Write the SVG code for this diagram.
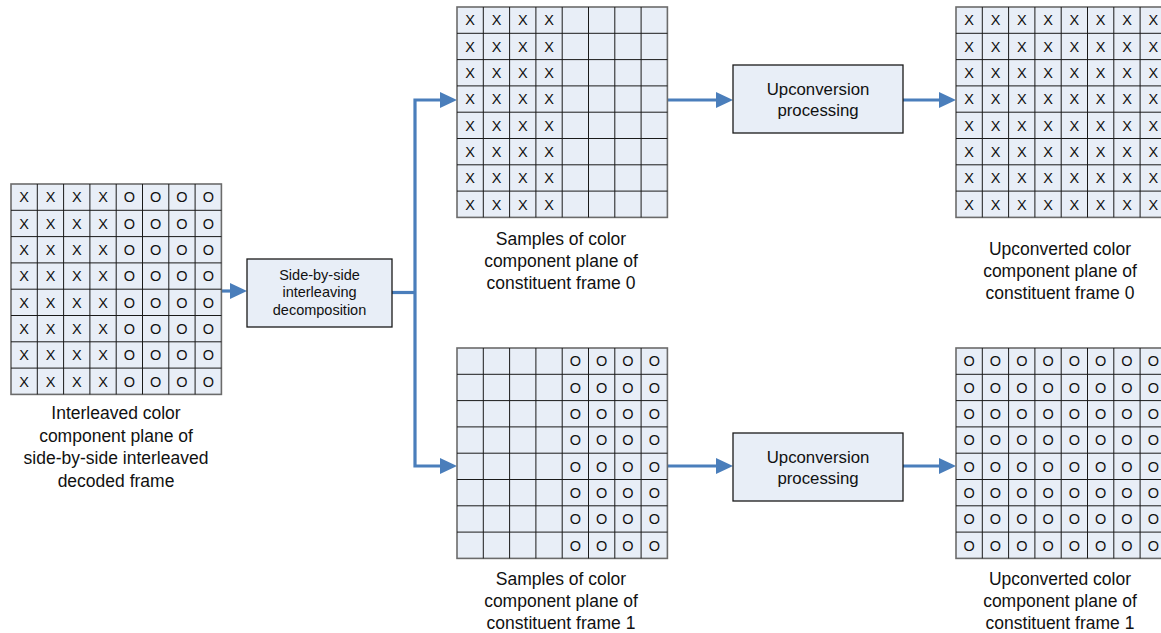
<svg xmlns="http://www.w3.org/2000/svg" width="1161" height="633" viewBox="0 0 1161 633">
<style>
.bg{fill:#E8EEF7;stroke:#6b6b6b;stroke-width:1.6}
.gl{fill:none;stroke:#1a1a1a;stroke-width:1}
.c{font-family:"Liberation Sans",Arial,sans-serif;font-size:14.5px;fill:#111;text-anchor:middle}
.lb{font-family:"Liberation Sans",Arial,sans-serif;font-size:17.5px;fill:#111;text-anchor:middle}
.bx{fill:#E8EEF7;stroke:#1a1a1a;stroke-width:1.3}
.bt{font-family:"Liberation Sans",Arial,sans-serif;font-size:16.8px;fill:#111;text-anchor:middle}
.st{font-family:"Liberation Sans",Arial,sans-serif;font-size:14.5px;fill:#111;text-anchor:middle}
.ar{fill:none;stroke:#4A7EBB;stroke-width:3.2}
</style>
<defs>
<marker id="ah" markerUnits="userSpaceOnUse" markerWidth="17" markerHeight="16" refX="0" refY="8" orient="auto-start-reverse">
<path d="M0,0 L17,8 L0,16 Z" fill="#4A7EBB"/>
</marker>
</defs>

<g id="connectors">
<path class="ar" d="M221,291 H230" marker-end="url(#ah)"/>
<path class="ar" d="M392,292.5 H415"/>
<path class="ar" d="M440,100 H415 V466 H440" marker-start="url(#ah)" marker-end="url(#ah)"/>
<path class="ar" d="M667.4,100 H716" marker-end="url(#ah)"/>
<path class="ar" d="M903,100 H939" marker-end="url(#ah)"/>
<path class="ar" d="M667.4,466 H716" marker-end="url(#ah)"/>
<path class="ar" d="M903,466 H939" marker-end="url(#ah)"/>
</g>

<g id="interleaved-plane">
<rect class="bg" x="11" y="184" width="210.4" height="210.4"/>
<path class="gl" d="M37.3,184V394.4M63.6,184V394.4M89.9,184V394.4M116.2,184V394.4M142.5,184V394.4M168.8,184V394.4M195.1,184V394.4M11,210.3H221.4M11,236.6H221.4M11,262.9H221.4M11,289.2H221.4M11,315.5H221.4M11,341.8H221.4M11,368.1H221.4"/>
<text class="c" x="24.2" y="202.4">X</text><text class="c" x="50.5" y="202.4">X</text><text class="c" x="76.8" y="202.4">X</text><text class="c" x="103.1" y="202.4">X</text><text class="c" x="129.4" y="202.4">O</text><text class="c" x="155.7" y="202.4">O</text><text class="c" x="182" y="202.4">O</text><text class="c" x="208.3" y="202.4">O</text>
<text class="c" x="24.2" y="228.7">X</text><text class="c" x="50.5" y="228.7">X</text><text class="c" x="76.8" y="228.7">X</text><text class="c" x="103.1" y="228.7">X</text><text class="c" x="129.4" y="228.7">O</text><text class="c" x="155.7" y="228.7">O</text><text class="c" x="182" y="228.7">O</text><text class="c" x="208.3" y="228.7">O</text>
<text class="c" x="24.2" y="255">X</text><text class="c" x="50.5" y="255">X</text><text class="c" x="76.8" y="255">X</text><text class="c" x="103.1" y="255">X</text><text class="c" x="129.4" y="255">O</text><text class="c" x="155.7" y="255">O</text><text class="c" x="182" y="255">O</text><text class="c" x="208.3" y="255">O</text>
<text class="c" x="24.2" y="281.3">X</text><text class="c" x="50.5" y="281.3">X</text><text class="c" x="76.8" y="281.3">X</text><text class="c" x="103.1" y="281.3">X</text><text class="c" x="129.4" y="281.3">O</text><text class="c" x="155.7" y="281.3">O</text><text class="c" x="182" y="281.3">O</text><text class="c" x="208.3" y="281.3">O</text>
<text class="c" x="24.2" y="307.6">X</text><text class="c" x="50.5" y="307.6">X</text><text class="c" x="76.8" y="307.6">X</text><text class="c" x="103.1" y="307.6">X</text><text class="c" x="129.4" y="307.6">O</text><text class="c" x="155.7" y="307.6">O</text><text class="c" x="182" y="307.6">O</text><text class="c" x="208.3" y="307.6">O</text>
<text class="c" x="24.2" y="333.9">X</text><text class="c" x="50.5" y="333.9">X</text><text class="c" x="76.8" y="333.9">X</text><text class="c" x="103.1" y="333.9">X</text><text class="c" x="129.4" y="333.9">O</text><text class="c" x="155.7" y="333.9">O</text><text class="c" x="182" y="333.9">O</text><text class="c" x="208.3" y="333.9">O</text>
<text class="c" x="24.2" y="360.2">X</text><text class="c" x="50.5" y="360.2">X</text><text class="c" x="76.8" y="360.2">X</text><text class="c" x="103.1" y="360.2">X</text><text class="c" x="129.4" y="360.2">O</text><text class="c" x="155.7" y="360.2">O</text><text class="c" x="182" y="360.2">O</text><text class="c" x="208.3" y="360.2">O</text>
<text class="c" x="24.2" y="386.5">X</text><text class="c" x="50.5" y="386.5">X</text><text class="c" x="76.8" y="386.5">X</text><text class="c" x="103.1" y="386.5">X</text><text class="c" x="129.4" y="386.5">O</text><text class="c" x="155.7" y="386.5">O</text><text class="c" x="182" y="386.5">O</text><text class="c" x="208.3" y="386.5">O</text>
<text class="lb" x="116" y="419">Interleaved color</text>
<text class="lb" x="116" y="441.5">component plane of</text>
<text class="lb" x="116" y="464">side-by-side interleaved</text>
<text class="lb" x="116" y="486.5">decoded frame</text>
</g>

<g id="decomposition">
<rect class="bx" x="247" y="259" width="145" height="68"/>
<text class="st" x="319.5" y="279.5">Side-by-side</text>
<text class="st" x="319.5" y="297">interleaving</text>
<text class="st" x="319.5" y="314.5">decomposition</text>
</g>

<g id="samples-frame0">
<rect class="bg" x="457" y="7" width="210.4" height="210.4"/>
<path class="gl" d="M483.3,7V217.4M509.6,7V217.4M535.9,7V217.4M562.2,7V217.4M588.5,7V217.4M614.8,7V217.4M641.1,7V217.4M457,33.3H667.4M457,59.6H667.4M457,85.9H667.4M457,112.2H667.4M457,138.5H667.4M457,164.8H667.4M457,191.1H667.4"/>
<text class="c" x="470.2" y="25.4">X</text><text class="c" x="496.5" y="25.4">X</text><text class="c" x="522.8" y="25.4">X</text><text class="c" x="549.1" y="25.4">X</text>
<text class="c" x="470.2" y="51.7">X</text><text class="c" x="496.5" y="51.7">X</text><text class="c" x="522.8" y="51.7">X</text><text class="c" x="549.1" y="51.7">X</text>
<text class="c" x="470.2" y="78">X</text><text class="c" x="496.5" y="78">X</text><text class="c" x="522.8" y="78">X</text><text class="c" x="549.1" y="78">X</text>
<text class="c" x="470.2" y="104.3">X</text><text class="c" x="496.5" y="104.3">X</text><text class="c" x="522.8" y="104.3">X</text><text class="c" x="549.1" y="104.3">X</text>
<text class="c" x="470.2" y="130.6">X</text><text class="c" x="496.5" y="130.6">X</text><text class="c" x="522.8" y="130.6">X</text><text class="c" x="549.1" y="130.6">X</text>
<text class="c" x="470.2" y="156.9">X</text><text class="c" x="496.5" y="156.9">X</text><text class="c" x="522.8" y="156.9">X</text><text class="c" x="549.1" y="156.9">X</text>
<text class="c" x="470.2" y="183.2">X</text><text class="c" x="496.5" y="183.2">X</text><text class="c" x="522.8" y="183.2">X</text><text class="c" x="549.1" y="183.2">X</text>
<text class="c" x="470.2" y="209.5">X</text><text class="c" x="496.5" y="209.5">X</text><text class="c" x="522.8" y="209.5">X</text><text class="c" x="549.1" y="209.5">X</text>
<text class="lb" x="561" y="244.5">Samples of color</text>
<text class="lb" x="561" y="266.5">component plane of</text>
<text class="lb" x="561" y="289">constituent frame 0</text>
</g>

<g id="upconversion-0">
<rect class="bx" x="733" y="65" width="170" height="68"/>
<text class="bt" x="818" y="95">Upconversion</text>
<text class="bt" x="818" y="116">processing</text>
</g>

<g id="upconverted-frame0">
<rect class="bg" x="956" y="7" width="210.4" height="210.4"/>
<path class="gl" d="M982.3,7V217.4M1008.6,7V217.4M1034.9,7V217.4M1061.2,7V217.4M1087.5,7V217.4M1113.8,7V217.4M1140.1,7V217.4M956,33.3H1166.4M956,59.6H1166.4M956,85.9H1166.4M956,112.2H1166.4M956,138.5H1166.4M956,164.8H1166.4M956,191.1H1166.4"/>
<text class="c" x="969.2" y="25.4">X</text><text class="c" x="995.5" y="25.4">X</text><text class="c" x="1021.8" y="25.4">X</text><text class="c" x="1048.1" y="25.4">X</text><text class="c" x="1074.4" y="25.4">X</text><text class="c" x="1100.7" y="25.4">X</text><text class="c" x="1127" y="25.4">X</text><text class="c" x="1153.3" y="25.4">X</text>
<text class="c" x="969.2" y="51.7">X</text><text class="c" x="995.5" y="51.7">X</text><text class="c" x="1021.8" y="51.7">X</text><text class="c" x="1048.1" y="51.7">X</text><text class="c" x="1074.4" y="51.7">X</text><text class="c" x="1100.7" y="51.7">X</text><text class="c" x="1127" y="51.7">X</text><text class="c" x="1153.3" y="51.7">X</text>
<text class="c" x="969.2" y="78">X</text><text class="c" x="995.5" y="78">X</text><text class="c" x="1021.8" y="78">X</text><text class="c" x="1048.1" y="78">X</text><text class="c" x="1074.4" y="78">X</text><text class="c" x="1100.7" y="78">X</text><text class="c" x="1127" y="78">X</text><text class="c" x="1153.3" y="78">X</text>
<text class="c" x="969.2" y="104.3">X</text><text class="c" x="995.5" y="104.3">X</text><text class="c" x="1021.8" y="104.3">X</text><text class="c" x="1048.1" y="104.3">X</text><text class="c" x="1074.4" y="104.3">X</text><text class="c" x="1100.7" y="104.3">X</text><text class="c" x="1127" y="104.3">X</text><text class="c" x="1153.3" y="104.3">X</text>
<text class="c" x="969.2" y="130.6">X</text><text class="c" x="995.5" y="130.6">X</text><text class="c" x="1021.8" y="130.6">X</text><text class="c" x="1048.1" y="130.6">X</text><text class="c" x="1074.4" y="130.6">X</text><text class="c" x="1100.7" y="130.6">X</text><text class="c" x="1127" y="130.6">X</text><text class="c" x="1153.3" y="130.6">X</text>
<text class="c" x="969.2" y="156.9">X</text><text class="c" x="995.5" y="156.9">X</text><text class="c" x="1021.8" y="156.9">X</text><text class="c" x="1048.1" y="156.9">X</text><text class="c" x="1074.4" y="156.9">X</text><text class="c" x="1100.7" y="156.9">X</text><text class="c" x="1127" y="156.9">X</text><text class="c" x="1153.3" y="156.9">X</text>
<text class="c" x="969.2" y="183.2">X</text><text class="c" x="995.5" y="183.2">X</text><text class="c" x="1021.8" y="183.2">X</text><text class="c" x="1048.1" y="183.2">X</text><text class="c" x="1074.4" y="183.2">X</text><text class="c" x="1100.7" y="183.2">X</text><text class="c" x="1127" y="183.2">X</text><text class="c" x="1153.3" y="183.2">X</text>
<text class="c" x="969.2" y="209.5">X</text><text class="c" x="995.5" y="209.5">X</text><text class="c" x="1021.8" y="209.5">X</text><text class="c" x="1048.1" y="209.5">X</text><text class="c" x="1074.4" y="209.5">X</text><text class="c" x="1100.7" y="209.5">X</text><text class="c" x="1127" y="209.5">X</text><text class="c" x="1153.3" y="209.5">X</text>
<text class="lb" x="1060" y="254.5">Upconverted color</text>
<text class="lb" x="1060" y="276.5">component plane of</text>
<text class="lb" x="1060" y="298.5">constituent frame 0</text>
</g>

<g id="samples-frame1">
<rect class="bg" x="457" y="348" width="210.4" height="210.4"/>
<path class="gl" d="M483.3,348V558.4M509.6,348V558.4M535.9,348V558.4M562.2,348V558.4M588.5,348V558.4M614.8,348V558.4M641.1,348V558.4M457,374.3H667.4M457,400.6H667.4M457,426.9H667.4M457,453.2H667.4M457,479.5H667.4M457,505.8H667.4M457,532.1H667.4"/>
<text class="c" x="575.4" y="366.4">O</text><text class="c" x="601.7" y="366.4">O</text><text class="c" x="628" y="366.4">O</text><text class="c" x="654.3" y="366.4">O</text>
<text class="c" x="575.4" y="392.7">O</text><text class="c" x="601.7" y="392.7">O</text><text class="c" x="628" y="392.7">O</text><text class="c" x="654.3" y="392.7">O</text>
<text class="c" x="575.4" y="419">O</text><text class="c" x="601.7" y="419">O</text><text class="c" x="628" y="419">O</text><text class="c" x="654.3" y="419">O</text>
<text class="c" x="575.4" y="445.3">O</text><text class="c" x="601.7" y="445.3">O</text><text class="c" x="628" y="445.3">O</text><text class="c" x="654.3" y="445.3">O</text>
<text class="c" x="575.4" y="471.6">O</text><text class="c" x="601.7" y="471.6">O</text><text class="c" x="628" y="471.6">O</text><text class="c" x="654.3" y="471.6">O</text>
<text class="c" x="575.4" y="497.9">O</text><text class="c" x="601.7" y="497.9">O</text><text class="c" x="628" y="497.9">O</text><text class="c" x="654.3" y="497.9">O</text>
<text class="c" x="575.4" y="524.2">O</text><text class="c" x="601.7" y="524.2">O</text><text class="c" x="628" y="524.2">O</text><text class="c" x="654.3" y="524.2">O</text>
<text class="c" x="575.4" y="550.5">O</text><text class="c" x="601.7" y="550.5">O</text><text class="c" x="628" y="550.5">O</text><text class="c" x="654.3" y="550.5">O</text>
<text class="lb" x="561" y="584.5">Samples of color</text>
<text class="lb" x="561" y="606.5">component plane of</text>
<text class="lb" x="561" y="628.5">constituent frame 1</text>
</g>

<g id="upconversion-1">
<rect class="bx" x="733" y="433" width="170" height="68"/>
<text class="bt" x="818" y="463">Upconversion</text>
<text class="bt" x="818" y="484">processing</text>
</g>

<g id="upconverted-frame1">
<rect class="bg" x="956" y="348" width="210.4" height="210.4"/>
<path class="gl" d="M982.3,348V558.4M1008.6,348V558.4M1034.9,348V558.4M1061.2,348V558.4M1087.5,348V558.4M1113.8,348V558.4M1140.1,348V558.4M956,374.3H1166.4M956,400.6H1166.4M956,426.9H1166.4M956,453.2H1166.4M956,479.5H1166.4M956,505.8H1166.4M956,532.1H1166.4"/>
<text class="c" x="969.2" y="366.4">O</text><text class="c" x="995.5" y="366.4">O</text><text class="c" x="1021.8" y="366.4">O</text><text class="c" x="1048.1" y="366.4">O</text><text class="c" x="1074.4" y="366.4">O</text><text class="c" x="1100.7" y="366.4">O</text><text class="c" x="1127" y="366.4">O</text><text class="c" x="1153.3" y="366.4">O</text>
<text class="c" x="969.2" y="392.7">O</text><text class="c" x="995.5" y="392.7">O</text><text class="c" x="1021.8" y="392.7">O</text><text class="c" x="1048.1" y="392.7">O</text><text class="c" x="1074.4" y="392.7">O</text><text class="c" x="1100.7" y="392.7">O</text><text class="c" x="1127" y="392.7">O</text><text class="c" x="1153.3" y="392.7">O</text>
<text class="c" x="969.2" y="419">O</text><text class="c" x="995.5" y="419">O</text><text class="c" x="1021.8" y="419">O</text><text class="c" x="1048.1" y="419">O</text><text class="c" x="1074.4" y="419">O</text><text class="c" x="1100.7" y="419">O</text><text class="c" x="1127" y="419">O</text><text class="c" x="1153.3" y="419">O</text>
<text class="c" x="969.2" y="445.3">O</text><text class="c" x="995.5" y="445.3">O</text><text class="c" x="1021.8" y="445.3">O</text><text class="c" x="1048.1" y="445.3">O</text><text class="c" x="1074.4" y="445.3">O</text><text class="c" x="1100.7" y="445.3">O</text><text class="c" x="1127" y="445.3">O</text><text class="c" x="1153.3" y="445.3">O</text>
<text class="c" x="969.2" y="471.6">O</text><text class="c" x="995.5" y="471.6">O</text><text class="c" x="1021.8" y="471.6">O</text><text class="c" x="1048.1" y="471.6">O</text><text class="c" x="1074.4" y="471.6">O</text><text class="c" x="1100.7" y="471.6">O</text><text class="c" x="1127" y="471.6">O</text><text class="c" x="1153.3" y="471.6">O</text>
<text class="c" x="969.2" y="497.9">O</text><text class="c" x="995.5" y="497.9">O</text><text class="c" x="1021.8" y="497.9">O</text><text class="c" x="1048.1" y="497.9">O</text><text class="c" x="1074.4" y="497.9">O</text><text class="c" x="1100.7" y="497.9">O</text><text class="c" x="1127" y="497.9">O</text><text class="c" x="1153.3" y="497.9">O</text>
<text class="c" x="969.2" y="524.2">O</text><text class="c" x="995.5" y="524.2">O</text><text class="c" x="1021.8" y="524.2">O</text><text class="c" x="1048.1" y="524.2">O</text><text class="c" x="1074.4" y="524.2">O</text><text class="c" x="1100.7" y="524.2">O</text><text class="c" x="1127" y="524.2">O</text><text class="c" x="1153.3" y="524.2">O</text>
<text class="c" x="969.2" y="550.5">O</text><text class="c" x="995.5" y="550.5">O</text><text class="c" x="1021.8" y="550.5">O</text><text class="c" x="1048.1" y="550.5">O</text><text class="c" x="1074.4" y="550.5">O</text><text class="c" x="1100.7" y="550.5">O</text><text class="c" x="1127" y="550.5">O</text><text class="c" x="1153.3" y="550.5">O</text>
<text class="lb" x="1060" y="584.5">Upconverted color</text>
<text class="lb" x="1060" y="606.5">component plane of</text>
<text class="lb" x="1060" y="628.5">constituent frame 1</text>
</g>
</svg>
